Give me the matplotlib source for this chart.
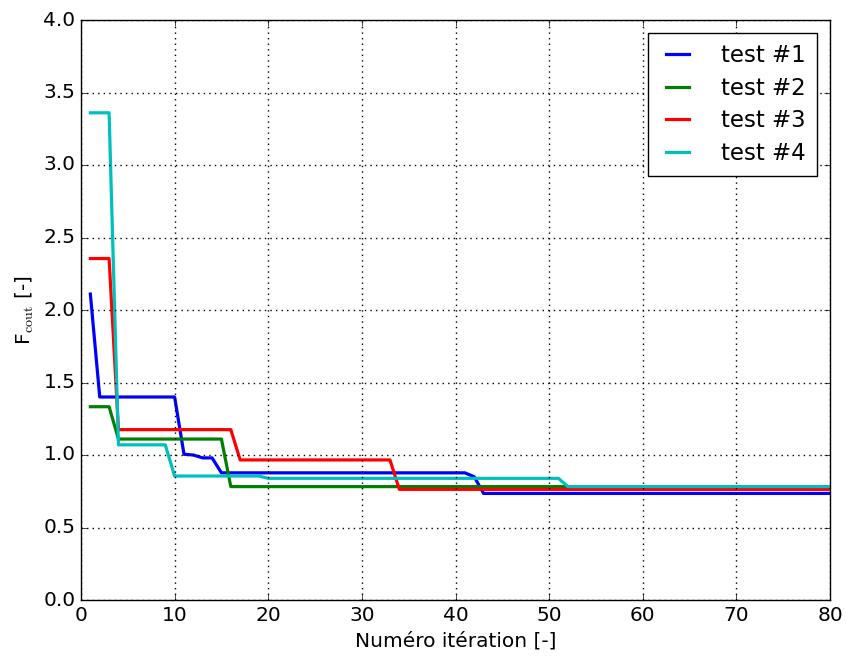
import matplotlib
matplotlib.use('Agg')
import matplotlib.pyplot as plt
import numpy as np

plt.style.use('classic')

# iteration numbers 1..80
iterations = list(range(1, 81))

# cost function value per iteration
test1 = ([2.11] + [1.40] * 9 + [1.005, 1.0, 0.98, 0.98] + [0.877] * 27
         + [0.85] + [0.735] * 38)
test2 = [1.333] * 3 + [1.11] * 12 + [0.782] * 65
test3 = [2.355] * 3 + [1.175] * 13 + [0.966] * 17 + [0.763] * 47
test4 = [3.36] * 3 + [1.07] * 6 + [0.855] * 10 + [0.839] * 32 + [0.782] * 29

series = [test1, test2, test3, test4]
labels = ['test #1', 'test #2', 'test #3', 'test #4']
colors = ['b', 'g', 'r', 'c']

fig = plt.figure(figsize=(8.46, 6.6), dpi=100, facecolor='white')
ax = fig.add_axes([81 / 846, 1 - 600 / 660, 749 / 846, 580 / 660])
ax.set_facecolor('white')

for vals, lab, col in zip(series, labels, colors):
    ax.plot(iterations, vals, color=col, linewidth=2.3, label=lab)

ax.set_xlim(0, 80)
ax.set_ylim(0, 4)
ax.set_yticks(np.arange(0, 4.01, 0.5))
ax.set_xlabel('Numéro itération [-]', fontsize=14.5)
ax.set_ylabel(r'F$_{\mathrm{cout}}$ [-]', fontsize=14.5)
ax.tick_params(labelsize=14.5)
ax.grid(True, color='k', linestyle=':', linewidth=1)

leg = ax.legend(loc='upper right', fontsize=16.5, handlelength=1.6,
                handletextpad=1.1, borderaxespad=0.55, borderpad=0.5,
                labelspacing=0.42, fancybox=False)
leg.get_frame().set_edgecolor('k')

fig.savefig('out.png', dpi=100, facecolor='white')
